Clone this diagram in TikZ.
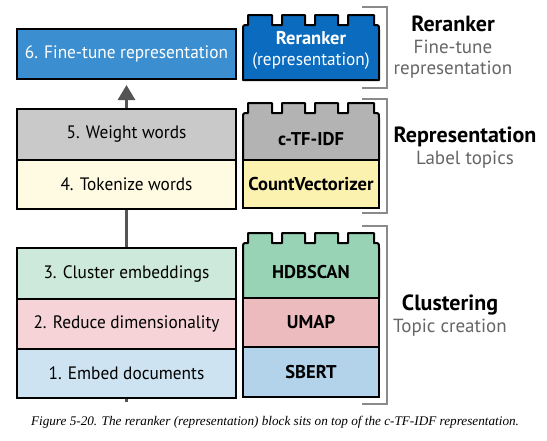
\documentclass[tikz,border=0pt]{standalone}
\usepackage{fontspec}
\setmainfont{PT Sans}
\newfontfamily\condfont[FakeStretch=0.96]{PT Sans}
\newfontfamily\capfont{Liberation Serif}
\usetikzlibrary{arrows.meta}
\definecolor{cSix}{HTML}{3B8FD0}
\definecolor{cRer}{HTML}{0B6CBF}
\definecolor{cFive}{HTML}{C9C9C9}
\definecolor{cTf}{HTML}{B3B3B3}
\definecolor{cFour}{HTML}{FEFBE2}
\definecolor{cCv}{HTML}{FBF2B0}
\definecolor{cThree}{HTML}{CDE9DB}
\definecolor{cHdb}{HTML}{98D3B6}
\definecolor{cTwo}{HTML}{F5D3D6}
\definecolor{cUmap}{HTML}{EBBBBD}
\definecolor{cOne}{HTML}{CDE3F1}
\definecolor{cSb}{HTML}{B2D3EA}
\definecolor{lbl}{HTML}{666666}
\definecolor{brk}{HTML}{8A8A8A}
\definecolor{arr}{HTML}{555555}
\newcommand\bumpblock[3]{% #1 fill, #2 shoulder y, #3 bottom y
  \filldraw[fill=#1,draw=black,line width=2pt,line join=round]
   (243,#3) -- (243,{#2+5}) .. controls (243,#2) .. (248,#2)
   -- (248,{#2-10}) -- (272,{#2-10}) -- (272,#2) -- (282,#2)
   -- (282,{#2-10}) -- (305,{#2-10}) -- (305,#2) -- (315,#2)
   -- (315,{#2-10}) -- (338,{#2-10}) -- (338,#2) -- (348,#2)
   -- (348,{#2-10}) -- (374,{#2-10}) -- (374,#2)
   .. controls (379,#2) .. (379,{#2+5}) -- (379,#3) -- cycle;}
\begin{document}
\begin{tikzpicture}[x=1pt,y=-1pt,
  stepbox/.style={draw=black,line width=2pt,minimum width=219pt,inner sep=0pt,font=\condfont\fontsize{18}{20}\selectfont},
  blk/.style={font=\fontsize{18.5}{20}\selectfont\bfseries,inner sep=0pt},
  seg/.style={draw=black,line width=2pt},
  head/.style={font=\fontsize{22}{24}\selectfont\bfseries,inner sep=0pt},
  sub/.style={font=\fontsize{19}{21}\selectfont,text=lbl,inner sep=0pt},
  bracket/.style={draw=brk,line width=2pt}]
\useasboundingbox (0,0) rectangle (547,440);
\fill[white] (0,0) rectangle (547,440);
% left column
\node[stepbox,fill=cOne,minimum height=49pt] (s1) at (126.5,373.5) {1. Embed documents};
\node[stepbox,fill=cSix,minimum height=50pt,text=white] (s6) at (126.5,54) {6. Fine-tune representation};
\draw[arr,line width=3pt,-{Triangle[width=17pt,length=15pt]},shorten <=-3pt,shorten >=5pt] (s1.south) -- (s6.south);
\node[stepbox,fill=cOne,minimum height=49pt] at (126.5,373.5) {1. Embed documents};
\node[stepbox,fill=cTwo,minimum height=50pt] (s2) at (126.5,324) {2. Reduce dimensionality};
\node[stepbox,fill=cThree,minimum height=51pt] (s3) at (126.5,273.5) {3. Cluster embeddings};
\node[stepbox,fill=cFour,minimum height=49pt] (s4) at (126.5,184.5) {4. Tokenize words};
\node[stepbox,fill=cFive,minimum height=51pt] (s5) at (126.5,134.5) {5. Weight words};
% right blocks
\bumpblock{cRer}{25}{80}
\node[blk,text=white] (rr) at (311,38) {Reranker};
\node[inner sep=0pt,text=white,font=\condfont\fontsize{18}{20}\selectfont] (rrp) at (311,61) {(representation)};
\bumpblock{cTf}{113}{160}
\filldraw[seg,fill=cCv] (243,160) rectangle (379,208);
\node[blk] (tf) at (311,139) {c-TF-IDF};
\node[blk] (cv) at (311,184) {CountVectorizer};
\bumpblock{cHdb}{243}{298}
\filldraw[seg,fill=cUmap] (243,298) rectangle (379,347);
\filldraw[seg,fill=cSb] (243,347) rectangle (379,397);
\node[blk] (hd) at (311,272) {HDBSCAN};
\node[blk] (um) at (311,322) {UMAP};
\node[blk] (sb) at (311,372) {SBERT};
% brackets
\draw[bracket] (362,7) -- (387,7) -- (387,88) -- (362,88);
\draw[bracket] (362,99) -- (387,99) -- (387,213) -- (362,213);
\draw[bracket] (362,226) -- (387,226) -- (387,404) -- (362,404);
% labels
\node[head] (h1) at (453,24) {Reranker};
\node[sub] (h1a) at (453,47) {Fine-tune};
\node[sub] (h1b) at (453,70) {representation};
\node[head] (h2) at (465,137) {Representation};
\node[sub] (h2a) at (465,160) {Label topics};
\node[head] (h3) at (450,305) {Clustering};
\node[sub] (h3a) at (450,328) {Topic creation};
% caption
\node[inner sep=0pt,font=\capfont\itshape\fontsize{13.2}{15}\selectfont] (cap) at (275,422) {Figure 5-20. The reranker (representation) block sits on top of the c-TF-IDF representation.};
\end{tikzpicture}
\end{document}
